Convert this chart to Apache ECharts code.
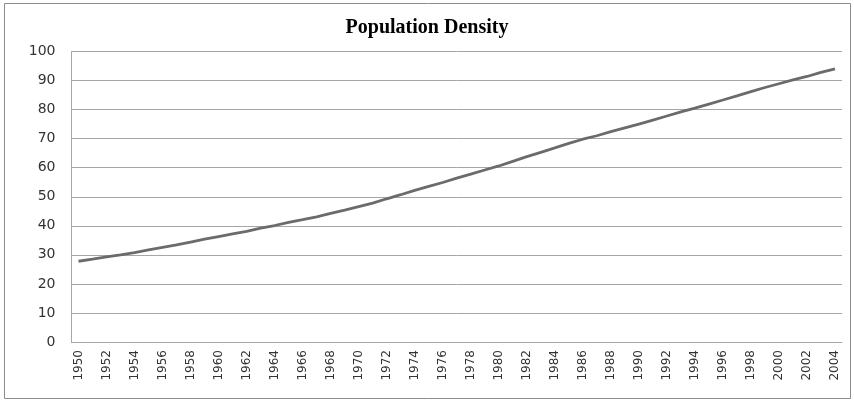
<!DOCTYPE html>
<html>
<head>
<meta charset="utf-8">
<script src="https://cdn.jsdelivr.net/npm/echarts@6/dist/echarts.min.js"></script>
<style>html,body{margin:0;padding:0;background:#fff;}#c{width:854px;height:400px;}</style>
</head>
<body>
<div id="c"></div>
<script>
const titleText = "Population Density";
const years = [];
for (let y = 1950; y <= 2004; y++) years.push(String(y));
const density = [
  27.8, 28.5, 29.3, 30.0, 30.8, 31.7, 32.6, 33.4, 34.4, 35.4,
  36.3, 37.2, 38.1, 39.2, 40.1, 41.2, 42.1, 43.1, 44.3, 45.4,
  46.6, 47.8, 49.3, 50.7, 52.2, 53.6, 54.9, 56.4, 57.8, 59.2,
  60.6, 62.2, 63.8, 65.3, 66.8, 68.4, 69.8, 71.0, 72.4, 73.7,
  75.0, 76.4, 77.8, 79.2, 80.5, 81.9, 83.3, 84.7, 86.2, 87.6,
  88.9, 90.2, 91.4, 92.8, 94.0
];
const yTicks = { min: 0, max: 100, interval: 10 };

const chart = echarts.init(document.getElementById('c'), null, { renderer: 'canvas' });
chart.setOption({
  animation: false,
  backgroundColor: '#ffffff',
  graphic: [{
    type: 'rect',
    shape: { x: 4.5, y: 3.5, width: 846, height: 395 },
    style: { fill: 'none', stroke: '#8c8c8c', lineWidth: 1 },
    silent: true
  }],
  title: {
    text: titleText,
    left: 'center',
    top: 13,
    textStyle: { fontFamily: 'Liberation Serif', fontWeight: 'bold', fontSize: 20, color: '#000' }
  },
  grid: { left: 71.5, right: 12, top: 51.5, bottom: 58, containLabel: false },
  xAxis: {
    type: 'category',
    data: years,
    boundaryGap: true,
    axisLine: { show: true, lineStyle: { color: '#a6a6a6', width: 1 } },
    axisTick: { show: false },
    axisLabel: { interval: 1, rotate: 90, fontFamily: 'DejaVu Sans', fontSize: 12, color: '#333', margin: 8 },
    splitLine: { show: false }
  },
  yAxis: {
    type: 'value',
    min: yTicks.min, max: yTicks.max, interval: yTicks.interval,
    axisLine: { show: true, lineStyle: { color: '#a6a6a6', width: 1 } },
    axisTick: { show: false },
    axisLabel: { fontFamily: 'DejaVu Sans', fontSize: 14, color: '#333', margin: 16 },
    splitLine: { show: true, lineStyle: { color: '#a6a6a6', width: 1 } }
  },
  series: [{
    type: 'line',
    data: density,
    showSymbol: false,
    symbol: 'none',
    lineStyle: { color: '#6b6b6b', width: 2.8 },
    smooth: false
  }]
});
</script>
</body>
</html>
